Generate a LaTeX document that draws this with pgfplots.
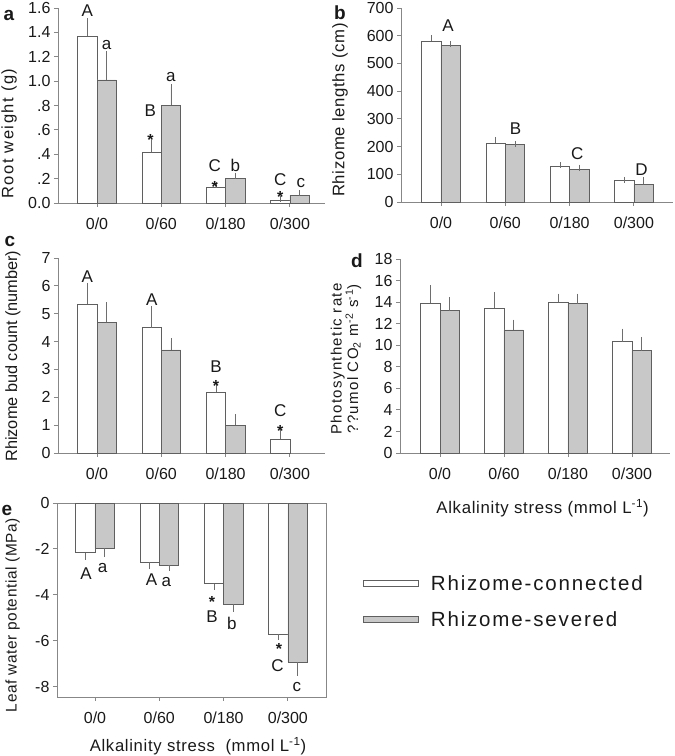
\documentclass[border=0pt]{standalone}
\usepackage{pgfplots}
\pgfplotsset{compat=1.18}
\usepackage{fontspec}
\setmainfont{Liberation Sans}
\newfontfamily\lsA[LetterSpace=9]{Liberation Sans}
\newfontfamily\lsB[LetterSpace=4]{Liberation Sans}
\definecolor{axgray}{RGB}{135,135,135}
\definecolor{edgegray}{RGB}{95,95,95}
\definecolor{barfill}{RGB}{200,200,200}
\definecolor{errgray}{RGB}{110,110,110}
\definecolor{txt}{RGB}{25,25,25}
\newcommand\tickfont{\fontsize{16}{18}\selectfont}
\newcommand\letfont{\fontsize{17}{19}\selectfont}
\pgfplotsset{
  panel/.style={scale only axis,
    axis line style={draw=axgray, line width=0.9pt},
    tick style={draw=axgray, line width=0.9pt},
    tick align=outside, major tick length=4pt,
    xtick={0,1,2,3}, xticklabels={0/0,0/60,0/180,0/300},
    ticklabel style={font=\tickfont, text=txt},
    xticklabel style={yshift=-7pt},
    ybar, bar width=0.3, clip=false},
  wbar/.style={fill=white, draw=edgegray, line width=0.7pt, bar shift=-0.15,
    error bars/.cd, y dir=#1, y explicit,
    error bar style={draw=errgray, line width=0.7pt},
    error mark options={draw=errgray, mark size=3pt, line width=0.7pt}},
  wbar/.default=plus,
  gbar/.style={fill=barfill, draw=edgegray, line width=0.7pt, bar shift=0.15,
    error bars/.cd, y dir=#1, y explicit,
    error bar style={draw=errgray, line width=0.7pt},
    error mark options={draw=errgray, mark size=3pt, line width=0.7pt}},
  gbar/.default=plus,
}
\tikzset{
  let/.style={font=\letfont, inner sep=0pt, text=txt},
  star/.style={font=\bfseries\fontsize{16}{18}\selectfont, inner sep=0pt, text height=2.5pt, text depth=2.5pt, anchor=center, text=txt},
  plab/.style={font=\bfseries\fontsize{19}{21}\selectfont, inner sep=0pt, text=txt},
}
\newcommand\st{\raisebox{-9.3pt}{*}}
\begin{document}
\begin{tikzpicture}
\path[use as bounding box] (0pt,0pt) rectangle (675pt,756pt);
% ---------- panel a ----------
\begin{axis}[panel, axis lines*=left, at={(58pt,553pt)}, anchor=south west, width=267pt, height=195pt,
  xmin=-0.607, xmax=3.546, ymin=0, ymax=1.6,
  ytick={0,0.2,0.4,0.6,0.8,1.0,1.2,1.4,1.6},
  yticklabels={0.0,.2,.4,.6,.8,1.0,1.2,1.4,1.6},
  ylabel={Root weight (g)},
  ylabel style={at={(axis description cs:-0.1835,0.356)}, anchor=center,
    font=\lsA\fontsize{16.5}{19}\selectfont, text=txt}]
\addplot[wbar] coordinates {(0,1.37) +- (0,0.12) (1,0.415) +- (0,0.08) (2,0.128) +- (0,0.022) (3,0.025) +- (0,0.008)};
\addplot[gbar] coordinates {(0,1.01) +- (0,0.21) (1,0.80) +- (0,0.15) (2,0.203) +- (0,0.022) (3,0.064) +- (0,0.018)};
\node[let] at (axis cs:-0.15,1.575) {A};
\node[let] at (axis cs:0.15,1.30) {a};
\node[let] at (axis cs:0.83,0.755) {B};
\node[star] at (axis cs:0.83,0.55) {\st};
\node[let] at (axis cs:1.15,1.03) {a};
\node[let] at (axis cs:1.83,0.307) {C};
\node[star] at (axis cs:1.83,0.166) {\st};
\node[let] at (axis cs:2.15,0.307) {b};
\node[let] at (axis cs:2.85,0.19) {C};
\node[star] at (axis cs:2.85,0.083) {\st};
\node[let] at (axis cs:3.17,0.166) {c};
\end{axis}
% ---------- panel b ----------
\begin{axis}[panel, axis lines*=left, at={(401pt,554pt)}, anchor=south west, width=272pt, height=194pt,
  xmin=-0.622, xmax=3.608, ymin=0, ymax=700,
  ytick={0,100,200,300,400,500,600,700},
  yticklabels={0,100,200,300,400,500,600,700},
  ylabel={Rhizome lengths (cm)},
  ylabel style={at={(axis description cs:-0.224,0.474)}, anchor=center,
    font=\lsB\fontsize{16.7}{19}\selectfont, text=txt}]
\addplot[wbar] coordinates {(0,581) +- (0,10) (1,213) +- (0,11) (2,130) +- (0,3) (3,77) +- (0,3)};
\addplot[gbar] coordinates {(0,564) +- (0,5) (1,207) +- (0,3) (2,118) +- (0,6) (3,64) +- (0,16)};
\node[let] at (axis cs:0.11,638) {A};
\node[let] at (axis cs:1.16,263) {B};
\node[let] at (axis cs:2.12,173) {C};
\node[let] at (axis cs:3.12,115) {D};
\end{axis}
% ---------- panel c ----------
\begin{axis}[panel, axis lines*=left, at={(58pt,303pt)}, anchor=south west, width=267pt, height=195pt,
  xmin=-0.607, xmax=3.546, ymin=0, ymax=7,
  ytick={0,1,2,3,4,5,6,7},
  yticklabels={0,1,2,3,4,5,6,7},
  ylabel={Rhizome bud count (number)},
  ylabel style={at={(axis description cs:-0.169,0.497)}, anchor=center,
    font=\fontsize{16.3}{19}\selectfont, text=txt}]
\addplot[wbar] coordinates {(0,5.35) +- (0,0.65) (1,4.5) +- (0,0.67) (2,2.18) +- (0,0.18) (3,0.5) +- (0,0.27)};
\addplot[gbar] coordinates {(0,4.69) +- (0,0.62) (1,3.7) +- (0,0.32) (2,1.0) +- (0,0.28)};
\node[let] at (axis cs:-0.15,6.32) {A};
\node[let] at (axis cs:0.85,5.49) {A};
\node[let] at (axis cs:1.85,3.10) {B};
\node[star] at (axis cs:1.85,2.54) {\st};
\node[let] at (axis cs:2.85,1.52) {C};
\node[star] at (axis cs:2.85,0.92) {\st};
\end{axis}
% ---------- panel d ----------
\begin{axis}[panel, axis lines*=left, at={(400pt,303pt)}, anchor=south west, width=270pt, height=194pt,
  xmin=-0.625, xmax=3.594, ymin=0, ymax=18,
  ytick={0,2,4,6,8,10,12,14,16,18},
  yticklabels={0,2,4,6,8,10,12,14,16,18},
  ylabel={Photosynthetic rate\\??umol CO\textsubscript{2} m\textsuperscript{-2} s\textsuperscript{-1})},
  ylabel style={at={(axis description cs:-0.2,0.485)}, anchor=center, align=center,
    font=\lsA\fontsize{15}{15.5}\selectfont, text=txt},
  xlabel={Alkalinity stress (mmol L\textsuperscript{-1})},
  xlabel style={at={(axis description cs:0.528,-0.2835)}, anchor=center,
    font=\lsB\fontsize{16.8}{19}\selectfont, text=txt}]
\addplot[wbar] coordinates {(0,13.9) +- (0,1.4) (1,13.44) +- (0,1.24) (2,13.97) +- (0,0.53) (3,10.33) +- (0,0.94)};
\addplot[gbar] coordinates {(0,13.2) +- (0,1.0) (1,11.42) +- (0,0.68) (2,13.87) +- (0,0.63) (3,9.5) +- (0,0.99)};
\end{axis}
% ---------- panel e ----------
\begin{axis}[panel, axis lines=box, tick pos=left,
  at={(57pt,59pt)}, anchor=south west, width=269pt, height=194pt,
  xmin=-0.591, xmax=3.593, ymin=-8.45, ymax=0,
  ytick={-8,-6,-4,-2,0},
  yticklabels={-8,-6,-4,-2,0},
  ylabel={Leaf water potential (MPa)},
  ylabel style={at={(axis description cs:-0.165,0.423)}, anchor=center,
    font=\lsB\fontsize{15.4}{18}\selectfont, text=txt},
  xlabel={Alkalinity stress\ \ (mmol L\textsuperscript{-1})},
  xlabel style={at={(axis description cs:0.524,-0.2526)}, anchor=center,
    font=\lsB\fontsize{16.7}{19}\selectfont, text=txt},
  legend style={draw=none, fill=none, at={(axis description cs:1.1375,0.492)}, anchor=west,
    font=\lsA\fontsize{20.5}{23}\selectfont, text=txt, inner sep=0pt, row sep=16pt,
    /tikz/every odd column/.append style={column sep=10pt}},
  legend cell align=left,
  legend image code/.code={\draw[#1] (0pt,-3pt) rectangle (55pt,3pt);}]
\addplot[wbar=minus] coordinates {(0,-2.17) +- (0,0.18) (1,-2.57) +- (0,0.18) (2,-3.51) +- (0,0.14) (3,-5.71) +- (0,0.12)};
\addlegendentry{Rhizome-connected}
\addplot[gbar=minus] coordinates {(0,-1.98) +- (0,0.25) (1,-2.71) +- (0,0.1) (2,-4.41) +- (0,0.19) (3,-6.92) +- (0,0.47)};
\addlegendentry{Rhizome-severed}
\node[let] at (axis cs:-0.14,-3.06) {A};
\node[let] at (axis cs:0.12,-2.84) {a};
\node[let] at (axis cs:0.88,-3.36) {A};
\node[let] at (axis cs:1.11,-3.45) {a};
\node[star] at (axis cs:1.82,-4.14) {\st};
\node[let] at (axis cs:1.82,-4.97) {B};
\node[let] at (axis cs:2.13,-5.24) {b};
\node[star] at (axis cs:2.86,-6.2) {\st};
\node[let] at (axis cs:2.84,-7.1) {C};
\node[let] at (axis cs:3.14,-8.02) {c};
\end{axis}
% panel letters
\node[plab] at (9pt,741pt) {a};
\node[plab] at (340pt,743pt) {b};
\node[plab] at (10pt,515pt) {c};
\node[plab] at (357pt,495pt) {d};
\node[plab] at (7pt,246pt) {e};
\end{tikzpicture}
\end{document}
